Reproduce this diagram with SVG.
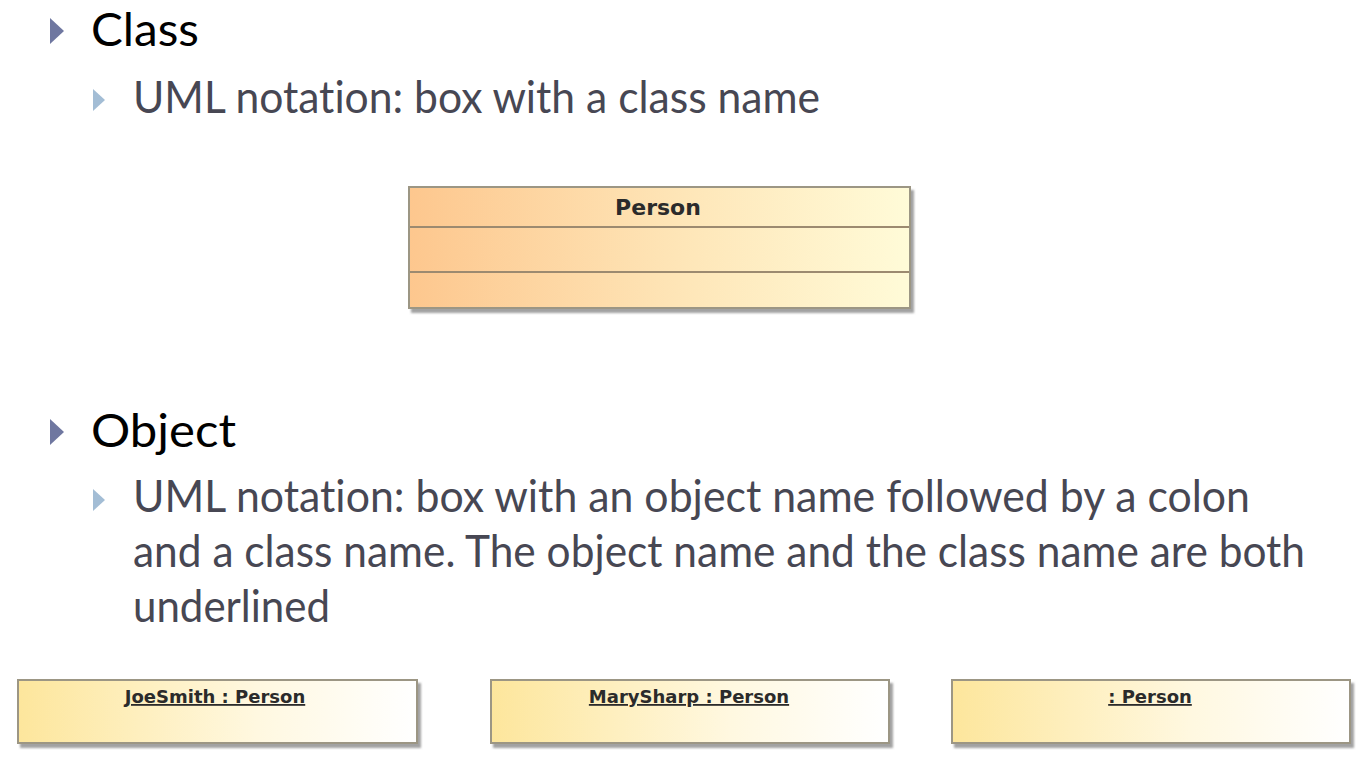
<svg xmlns="http://www.w3.org/2000/svg" width="1364" height="763" viewBox="0 0 1364 763">
  <defs>
    <linearGradient id="gClass" x1="0" y1="0" x2="1" y2="0">
      <stop offset="0" stop-color="#fdc78e"/>
      <stop offset="0.55" stop-color="#fee6b8"/>
      <stop offset="1" stop-color="#fffbd8"/>
    </linearGradient>
    <linearGradient id="gObj" x1="0" y1="0" x2="1" y2="0">
      <stop offset="0" stop-color="#fde69c"/>
      <stop offset="0.6" stop-color="#fff8e0"/>
      <stop offset="1" stop-color="#ffffff"/>
    </linearGradient>
    <filter id="sh" x="-5%" y="-20%" width="110%" height="140%">
      <feDropShadow dx="3" dy="4" stdDeviation="1.2" flood-color="#8a8a8a" flood-opacity="0.8"/>
    </filter>
  </defs>
  <style>
    .h1 { font-family: Lato, "Open Sans", sans-serif; font-size: 46px; fill: #000000; font-variant-ligatures: none; }
    .h2 { font-family: Lato, "Open Sans", sans-serif; font-size: 44px; fill: #474753; font-variant-ligatures: none; }
    .b1 { fill: #6f77a0; }
    .b2 { fill: #a3bdd5; }
    .box { stroke: #9c9684; stroke-width: 2; filter: url(#sh); }
    .sep { stroke: #9c8a70; stroke-width: 2; }
    .lbl { font-family: "DejaVu Sans", Verdana, sans-serif; font-weight: bold; fill: #2b2b2b; text-anchor: middle; }
  </style>
  <rect width="1364" height="763" fill="#ffffff"/>

  <g id="bullet-class">
    <polygon class="b1" points="50,18 50,44 64,31"/>
    <text class="h1" x="91" y="46" textLength="108" lengthAdjust="spacingAndGlyphs">Class</text>
  </g>
  <g id="sub-class">
    <polygon class="b2" points="93,89 93,111 105,100"/>
    <text class="h2" x="133" y="113" textLength="687" lengthAdjust="spacingAndGlyphs">UML notation: box with a class name</text>
  </g>

  <g id="class-person">
    <rect class="box" x="409" y="187" width="501" height="121" fill="url(#gClass)"/>
    <line class="sep" x1="410" y1="227" x2="909" y2="227"/>
    <line class="sep" x1="410" y1="272" x2="909" y2="272"/>
    <text class="lbl" x="658" y="215" font-size="22">Person</text>
  </g>

  <g id="bullet-object">
    <polygon class="b1" points="50,419 50,445 64,432"/>
    <text class="h1" x="91" y="447" textLength="145" lengthAdjust="spacingAndGlyphs">Object</text>
  </g>
  <g id="sub-object">
    <polygon class="b2" points="93,489 93,511 105,500"/>
    <text class="h2" x="133" y="512" textLength="1117" lengthAdjust="spacingAndGlyphs">UML notation: box with an object name followed by a colon</text>
    <text class="h2" x="133" y="567" textLength="1172" lengthAdjust="spacingAndGlyphs">and a class name. The object name and the class name are both</text>
    <text class="h2" x="133" y="622" textLength="197" lengthAdjust="spacingAndGlyphs">underlined</text>
  </g>

  <g id="obj-joesmith">
    <rect class="box" x="18" y="680" width="399" height="63" fill="url(#gObj)"/>
    <text class="lbl" x="215" y="703" font-size="18" text-decoration="underline">JoeSmith : Person</text>
  </g>
  <g id="obj-marysharp">
    <rect class="box" x="491" y="680" width="398" height="63" fill="url(#gObj)"/>
    <text class="lbl" x="689" y="703" font-size="18" text-decoration="underline">MarySharp : Person</text>
  </g>
  <g id="obj-anon">
    <rect class="box" x="952" y="680" width="398" height="63" fill="url(#gObj)"/>
    <text class="lbl" x="1150" y="703" font-size="18" text-decoration="underline">: Person</text>
  </g>

  <g id="connectors"></g>
</svg>
